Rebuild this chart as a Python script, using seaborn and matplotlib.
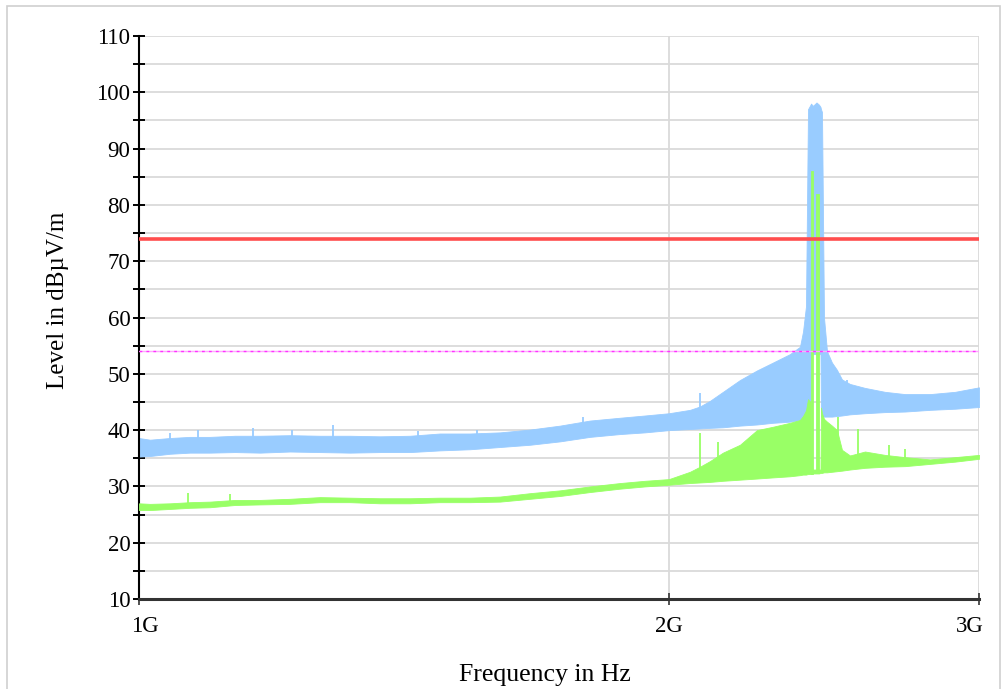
import numpy as np
import pandas as pd
import matplotlib
matplotlib.use("Agg")
import matplotlib.pyplot as plt
import matplotlib.ticker as mticker
import matplotlib.transforms as mtransforms
from matplotlib.patches import Rectangle
import seaborn as sns

# ---------------- data ----------------
freq_ghz = [1.000, 1.0145, 1.0414, 1.0690, 1.0973, 1.1338, 1.1715, 1.2184, 1.2671,
            1.3178, 1.3705, 1.4254, 1.4824, 1.5418, 1.6035, 1.6676, 1.7343, 1.8037,
            1.8759, 1.9382, 2.000, 2.0557, 2.0827, 2.1101, 2.1463, 2.1946, 2.2439,
            2.2913, 2.3428, 2.3737, 2.3832, 2.3925, 2.3988, 2.4067, 2.4082, 2.4145,
            2.4256, 2.4336, 2.4383, 2.4399, 2.4431, 2.4495, 2.4592, 2.4751, 2.4914,
            2.5078, 2.5342, 2.5844, 2.6529, 2.7233, 2.8138, 2.9073, 3.000]

# peak trace (blue): lower / upper envelope in dBuV/m
peak_lo = [35.3, 35.4, 35.8, 36.0, 36.0, 36.1, 36.0, 36.2, 36.1,
           36.0, 36.1, 36.1, 36.4, 36.6, 37.0, 37.4, 38.0, 38.8,
           39.3, 39.6, 40.0, 40.2, 40.3, 40.4, 40.5, 40.8, 41.0,
           41.3, 41.5, 41.8, 42.0, 42.2, 42.3, 42.3, 53.5, 53.5,
           53.5, 53.5, 53.5, 42.4, 42.4, 42.4, 42.4, 42.4, 42.5,
           42.6, 42.8, 43.0, 43.2, 43.3, 43.6, 43.8, 44.1]
peak_hi = [38.6, 38.3, 38.6, 38.8, 38.8, 39.0, 39.0, 39.1, 39.0,
           39.0, 38.9, 39.0, 39.4, 39.4, 39.6, 40.1, 40.8, 41.7,
           42.2, 42.6, 43.0, 43.6, 44.2, 45.2, 46.8, 48.9, 50.6,
           52.0, 53.5, 54.8, 57.5, 62.0, 97.0, 97.8, 98.0, 97.6,
           98.2, 97.8, 97.4, 97.0, 96.5, 60.0, 54.0, 52.0, 50.7,
           49.0, 48.2, 47.5, 46.8, 46.4, 46.4, 46.8, 47.6]

# average trace (green): lower / upper envelope in dBuV/m
avg_lo = [25.8, 25.8, 26.0, 26.2, 26.3, 26.7, 26.8, 26.9, 27.2,
          27.2, 27.0, 27.0, 27.2, 27.2, 27.3, 27.8, 28.3, 29.0,
          29.6, 30.0, 30.3, 30.6, 30.7, 30.8, 31.0, 31.2, 31.4,
          31.6, 31.8, 32.0, 32.1, 32.1, 32.2, 32.2, 32.2, 32.3,
          32.3, 32.3, 32.4, 32.4, 32.4, 32.5, 32.5, 32.6, 32.7,
          32.8, 33.0, 33.3, 33.5, 33.6, 34.0, 34.4, 34.9]
avg_hi = [27.0, 26.9, 27.0, 27.2, 27.3, 27.6, 27.6, 27.8, 28.1,
          28.0, 27.9, 27.9, 28.0, 28.0, 28.2, 28.8, 29.3, 30.0,
          30.6, 31.0, 31.3, 32.6, 33.5, 34.5, 36.0, 37.4, 40.0,
          40.6, 41.3, 41.8, 42.5, 43.5, 45.5, 45.0, 33.0, 33.0,
          33.0, 33.0, 33.0, 44.0, 43.0, 42.0, 41.5, 40.8, 40.0,
          36.5, 35.5, 36.2, 35.6, 35.2, 34.8, 35.2, 35.6]

# narrow carrier bars of the average trace
avg_bar_from_ghz = [2.4082, 2.4256]
avg_bar_to_ghz = [2.4145, 2.4336]
avg_bar_base = [32.2, 32.3]
avg_bar_top = [86.0, 82.0]

# isolated spikes
peak_spike_ghz = [1.0414, 1.0802, 1.1608, 1.2215, 1.2888, 1.4404, 1.5559, 1.7873, 2.0827, 2.5243]
peak_spike_top = [39.5, 40.0, 40.4, 40.0, 40.9, 39.9, 40.0, 42.3, 46.6, 48.9]
avg_spike_ghz = [1.0662, 1.1264, 2.0827, 2.1323, 2.4947, 2.5609, 2.6668, 2.7233]
avg_spike_top = [28.8, 28.7, 39.5, 37.9, 42.3, 40.2, 37.4, 36.6]

limit_peak = 74.0
limit_avg = 54.0

x_ticks_ghz = [1, 2, 3]
x_tick_labels = ["1G", "2G", "3G"]
y_major = list(range(10, 111, 10))

# ---------------- styling ----------------
sns.set_theme(style="white")
plt.rcParams['font.family'] = ['Liberation Serif', 'DejaVu Serif']

BLUE = '#99CCFF'
GREEN = '#99FF66'
RED = '#FF4D4D'
MAGENTA = '#FF33FF'

fig = plt.figure(figsize=(10.07, 6.89), dpi=100)
fig.patch.set_facecolor('white')
ax = fig.add_axes([0.1380, 0.1306, 0.8342, 0.8171])
ax.set_facecolor('white')
ax.set_xscale('log')

f_hz = np.array(freq_ghz) * 1e9

# peak trace
ax.fill_between(f_hz, peak_lo, peak_hi, color=BLUE, lw=0.6, zorder=2)
ps = np.array(peak_spike_ghz) * 1e9
ax.vlines(ps, np.interp(ps, f_hz, peak_lo), peak_spike_top, color=BLUE, lw=1.3, zorder=2)

# average trace
ax.fill_between(f_hz, avg_lo, avg_hi, color=GREEN, lw=0.6, zorder=3)
for a, b, lo, hi in zip(avg_bar_from_ghz, avg_bar_to_ghz, avg_bar_base, avg_bar_top):
    ax.fill_between([a * 1e9, b * 1e9], [lo, lo], [hi, hi], color=GREEN, lw=0.6, zorder=3)
gs = np.array(avg_spike_ghz) * 1e9
ax.vlines(gs, np.interp(gs, f_hz, avg_lo), avg_spike_top, color=GREEN, lw=1.3, zorder=3)

# limit lines
lim_df = pd.DataFrame({'f': [1e9, 3e9], 'pk': [limit_peak, limit_peak], 'av': [limit_avg, limit_avg]})
sns.lineplot(data=lim_df, x='f', y='pk', ax=ax, color=RED, lw=2.6, zorder=5)
sns.lineplot(data=lim_df, x='f', y='av', ax=ax, color='#FFA8FF', lw=1.0, zorder=5)
sns.lineplot(data=lim_df, x='f', y='av', ax=ax, color=MAGENTA, lw=1.0,
             linestyle=(0, (2, 3)), zorder=6)

# axes
ax.set_xlim(1e9, 3e9)
ax.set_ylim(10, 110)
ax.xaxis.set_major_locator(mticker.FixedLocator([v * 1e9 for v in x_ticks_ghz]))
ax.xaxis.set_major_formatter(mticker.FixedFormatter(x_tick_labels))
ax.xaxis.set_minor_locator(mticker.NullLocator())
ax.yaxis.set_major_locator(mticker.FixedLocator(y_major))
ax.yaxis.set_minor_locator(mticker.MultipleLocator(5))

ax.set_axisbelow(True)
ax.grid(True, which='both', axis='y', color='#DADADA', lw=1.3)
ax.grid(True, which='major', axis='x', color='#DADADA', lw=1.3)

for s in ['top', 'right']:
    ax.spines[s].set_visible(False)
ax.spines['left'].set_color('black')
ax.spines['left'].set_linewidth(1.5)
ax.spines['bottom'].set_color('#333333')
ax.spines['bottom'].set_linewidth(2.2)

ax.tick_params(axis='y', which='both', direction='inout', length=8.5, width=1.4,
               color='black', labelsize=16.5, pad=2, labelcolor='black', left=True)
ax.tick_params(axis='x', which='major', direction='inout', length=8.5, width=1.2,
               color='#333333', labelsize=16.5, pad=8, labelcolor='black', bottom=True)

# small horizontal nudges of the end labels (as in the reference)
xticks = ax.xaxis.get_major_ticks(len(x_ticks_ghz))
for idx, dx in [(0, 4 / 72), (2, -7 / 72)]:
    lab = xticks[idx].label1
    lab.set_transform(lab.get_transform() +
                      mtransforms.ScaledTranslation(dx, 0, fig.dpi_scale_trans))

ax.set_xlabel('Frequency in Hz', fontsize=18.5, color='black')
ax.set_ylabel('Level in dBµV/m', fontsize=18, color='black')
ax.xaxis.set_label_coords(0.483, -0.115)
ax.yaxis.set_label_coords(-0.083, 0.53)

# outer frame
fig.patches.append(Rectangle((0.007, -0.1), 0.986, 1.0913, transform=fig.transFigure,
                             fill=False, edgecolor='#CFCFCF', lw=1.2))

fig.savefig('out.png', dpi=100, facecolor='white')
